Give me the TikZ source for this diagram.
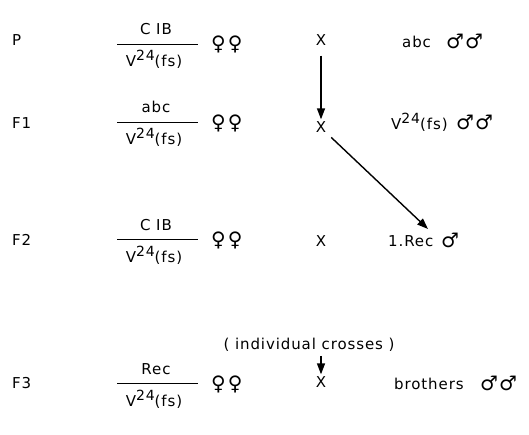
\documentclass[tikz,border=0pt]{standalone}
\usepackage{fontspec}
\setmainfont{DejaVu Sans}[LetterSpace=6]
\newfontfamily\symf{DejaVu Sans}
\usetikzlibrary{arrows.meta}
\begin{document}
\begin{tikzpicture}[x=1pt,y=-1pt,
  every node/.style={font=\fontsize{15}{17}\selectfont, inner sep=1pt},
  gen/.style={anchor=west},
  txt/.style={anchor=west},
  cross/.style={inner sep=2pt},
  sym/.style={font=\symf\fontsize{20}{20}\selectfont, anchor=west, inner sep=0pt},
  fracline/.style={line width=0.9pt},
  arr/.style={line width=1.4pt, -{Triangle[length=11pt,width=8pt]}}]
\useasboundingbox (0,0) rectangle (529,434);
\newcommand{\vtf}{V\raisebox{0.42em}{\fontsize{14}{14}\selectfont 24}(fs)}
\newcommand{\ffem}{♀\hspace{2pt}♀}
\newcommand{\mmal}{♂\hspace{1pt}♂}
% generation labels
\node[gen] (gP) at (11,40) {P};
\node[gen] (gF1) at (11,123) {F1};
\node[gen] (gF2) at (11,240) {F2};
\node[gen] (gF3) at (11,383) {F3};
% P row
\node (tP) at (156,29) {C IB};
\draw[fracline] (117,44) -- (198,44);
\node (bP) at (154,59) {\vtf};
\node[sym] (fP) at (211,44) {\ffem};
\node[cross] (xP) at (321,40) {X};
\node[txt] (mP) at (401,42) {abc};
\node[sym] (smP) at (446,41) {\mmal};
% F1 row
\node (tF1) at (156,107) {abc};
\draw[fracline] (117,122) -- (198,122);
\node (bF1) at (154,137) {\vtf};
\node[sym] (fF1) at (211,123) {\ffem};
\node[cross] (xF1) at (321,127) {X};
\node[txt] (mF1) at (390,122) {\vtf};
\node[sym] (smF1) at (456,122) {\mmal};
% F2 row
\node (tF2) at (156,225) {C IB};
\draw[fracline] (117,239) -- (198,239);
\node (bF2) at (154,255) {\vtf};
\node[sym] (fF2) at (211,240) {\ffem};
\node[cross] (xF2) at (321,241) {X};
\node[txt] (mF2) at (387,241) {1.Rec};
\node[sym] (smF2) at (441,240) {♂};
\coordinate (recTop) at (428,229);
% individual crosses
\node (ind) at (309,345) {( individual crosses )};
% F3 row
\node (tF3) at (156,369) {Rec};
\draw[fracline] (117,383) -- (198,383);
\node (bF3) at (154,399) {\vtf};
\node[sym] (fF3) at (211,384) {\ffem};
\node[cross] (xF3) at (321,382) {X};
\node[txt] (mF3) at (393,384) {brothers};
\node[sym] (smF3) at (480,383) {\mmal};
% arrows
\draw[arr, shorten <=8pt] (xP.south) -- (xF1.north);
\draw[arr, shorten <=4pt] (xF1.south east) -- (recTop);
\draw[arr, shorten <=3pt] (ind.south -| xF3) -- (xF3.north);
\end{tikzpicture}
\end{document}
